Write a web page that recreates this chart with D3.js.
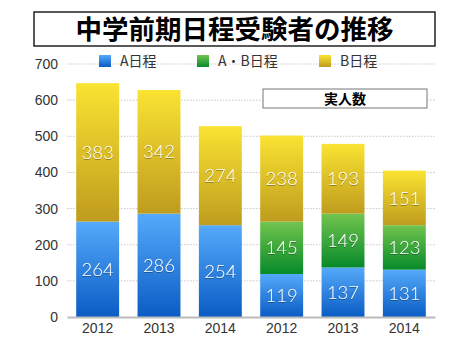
<!DOCTYPE html>
<html lang="ja">
<head>
    <meta charset="UTF-8">
    <title>中学前期日程受験者の推移</title>
    <style>
        body { margin: 0; background: #fff; }
        svg { display: block; font-family: "Noto Sans CJK JP", "Noto Sans", sans-serif; }
    </style>
</head>
<body>
    <svg id="chart"></svg>

    <script src="https://d3js.org/d3.v7.min.js"></script>
    <script>
        const years = ['2012', '2013', '2014', '2012', '2013', '2014']
        const seriesNames = ['A日程', 'A・B日程', 'B日程']
        const dataA = [264, 286, 254, 119, 137, 131]
        const dataAB = [0, 0, 0, 145, 149, 123]
        const dataB = [383, 342, 274, 238, 193, 151]
        const yTicks = [0, 100, 200, 300, 400, 500, 600, 700]

        const W = 470, H = 353
        const margin = { top: 64, left: 67, bottom: 36, right: 35 }
        const numFont = '"Liberation Sans", Arial, sans-serif'

        const svg = d3.select('#chart').attr('width', W).attr('height', H)

        // gradients for each series
        const grads = [
            { id: 'gA', top: '#55aafa', bottom: '#0a5cc4' },
            { id: 'gAB', top: '#72c44e', bottom: '#078a2a' },
            { id: 'gB', top: '#fae332', bottom: '#bf9c1e' }
        ]
        const defs = svg.append('defs')
        grads.forEach(g => {
            const lg = defs.append('linearGradient').attr('id', g.id)
                .attr('x1', 0).attr('y1', 0).attr('x2', 0).attr('y2', 1)
            lg.append('stop').attr('offset', '0%').attr('stop-color', g.top)
            lg.append('stop').attr('offset', '100%').attr('stop-color', g.bottom)
        })
        const shadow = defs.append('filter').attr('id', 'ts')
        shadow.append('feDropShadow').attr('dx', 0).attr('dy', 1).attr('stdDeviation', 0.5)
            .attr('flood-color', '#000').attr('flood-opacity', 0.35)

        const x = d3.scaleBand()
            .domain(years.map((d, i) => i))
            .range([margin.left, W - margin.right])
            .paddingInner(0.3)
            .paddingOuter(0.15)

        const y = d3.scaleLinear()
            .domain([0, 700])
            .range([H - margin.bottom, margin.top])

        // grid
        svg.append('g')
            .selectAll('line')
            .data(yTicks.slice(1))
            .join('line')
            .attr('x1', margin.left).attr('x2', W - margin.right)
            .attr('y1', d => y(d)).attr('y2', d => y(d))
            .attr('stroke', '#c8c8c8')
            .attr('stroke-dasharray', '1.5,1.5')

        // y axis labels
        const yAxis = d3.axisLeft(y).tickValues(yTicks).tickSize(0).tickPadding(9)
        svg.append('g')
            .attr('transform', `translate(${margin.left},0)`)
            .call(yAxis)
            .call(g => g.select('.domain').remove())
            .selectAll('text')
            .attr('font-size', 14)
            .attr('fill', '#333')
            .attr('font-family', numFont)

        // stacked data
        const rows = years.map((d, i) => ({ i, a: dataA[i], ab: dataAB[i], b: dataB[i] }))
        const stack = d3.stack().keys(['a', 'ab', 'b'])(rows)

        stack.forEach((layer, k) => {
            const g = svg.append('g')
            g.selectAll('rect')
                .data(layer.filter(d => d[1] > d[0]))
                .join('rect')
                .attr('x', d => x(d.data.i))
                .attr('width', x.bandwidth())
                .attr('y', d => y(d[1]))
                .attr('height', d => y(d[0]) - y(d[1]))
                .attr('fill', `url(#${grads[k].id})`)
            g.selectAll('text')
                .data(layer.filter(d => d[1] > d[0]))
                .join('text')
                .attr('x', d => x(d.data.i) + x.bandwidth() / 2)
                .attr('y', d => (y(d[0]) + y(d[1])) / 2)
                .attr('dy', '0.36em')
                .attr('text-anchor', 'middle')
                .attr('font-size', 18.5)
                .attr('font-weight', 300)
                .attr('fill', '#fff')
                .attr('filter', 'url(#ts)')
                .attr('font-family', '"Lato", ' + numFont)
                .text(d => d[1] - d[0])
        })

        // x axis
        const xAxis = d3.axisBottom(x).tickSize(0).tickPadding(6).tickFormat(i => years[i])
        svg.append('g')
            .attr('transform', `translate(0,${y(0)})`)
            .call(xAxis)
            .call(g => g.select('.domain').attr('stroke', '#bbb').attr('stroke-width', 2))
            .selectAll('text')
            .attr('font-size', 14)
            .attr('fill', '#333')
            .attr('font-family', numFont)

        // title
        svg.append('rect')
            .attr('x', 34).attr('y', 12).attr('width', 401).attr('height', 34)
            .attr('fill', '#fff').attr('stroke', '#222').attr('stroke-width', 1.5)
        svg.append('text')
            .attr('x', 234.5).attr('y', 29.5).attr('dy', '0.36em')
            .attr('text-anchor', 'middle')
            .attr('font-size', 26.5).attr('font-weight', 'bold')
            .text('中学前期日程受験者の推移')

        // legend
        const legendX = [99, 197, 319]
        const legend = svg.append('g')
        seriesNames.forEach((name, k) => {
            legend.append('rect')
                .attr('x', legendX[k]).attr('y', 55).attr('width', 12).attr('height', 12)
                .attr('fill', `url(#${grads[k].id})`)
            legend.append('text')
                .attr('x', legendX[k] + 21).attr('y', 61).attr('dy', '0.36em')
                .attr('font-size', 14).attr('fill', '#333')
                .text(name)
        })

        // box label
        svg.append('rect')
            .attr('x', 263).attr('y', 89).attr('width', 164).attr('height', 19)
            .attr('fill', '#fff').attr('stroke', '#777').attr('stroke-width', 1)
        svg.append('text')
            .attr('x', 345).attr('y', 98.5).attr('dy', '0.36em')
            .attr('text-anchor', 'middle')
            .attr('font-size', 14).attr('font-weight', 'bold')
            .text('実人数')
    </script>
</body>
</html>
